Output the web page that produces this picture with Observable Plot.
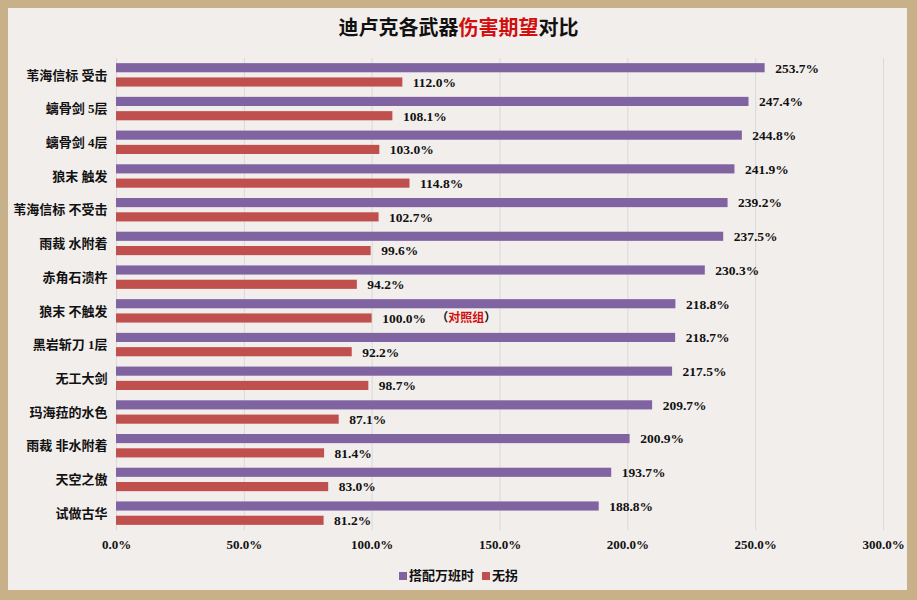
<!DOCTYPE html>
<html>
<head>
<meta charset="utf-8">
<script src="https://cdn.jsdelivr.net/npm/d3@7"></script>
<script src="https://cdn.jsdelivr.net/npm/@observablehq/plot@0.6"></script>
<style>
  html, body { margin: 0; padding: 0; }
  body { width: 917px; height: 600px; background: #c8b089; position: relative; overflow: hidden;
         font-family: "Liberation Serif", "Noto Sans CJK SC", serif; }
  #panel { position: absolute; left: 8px; top: 8px; width: 899px; height: 582px; background: #f2eeec; }
  #title { position: absolute; top: 12px; left: 0; width: 917px; text-align: center;
           font: bold 20px "Noto Sans CJK SC", sans-serif; color: #111; }
  #title .hl { color: #d10f0f; }
  #chart { position: absolute; left: 0; top: 0; }
  #legend { position: absolute; top: 565px; left: 0; width: 917px; text-align: center;
            font: bold 13px "Noto Sans CJK SC", sans-serif; color: #111; }
  #legend .sw { display: inline-block; width: 8px; height: 8px; margin-right: 2px; vertical-align: 0px; }
  #legend .item { margin: 0 4px; }
</style>
</head>
<body>
<div id="panel"></div>
<div id="title">迪卢克各武器<span class="hl">伤害期望</span>对比</div>
<div id="chart"></div>
<div id="legend"></div>
<script>
const categories = ["苇海信标 受击", "螭骨剑 5层", "螭骨剑 4层", "狼末 触发", "苇海信标 不受击", "雨裁 水附着", "赤角石溃杵", "狼末 不触发", "黑岩斩刀 1层", "无工大剑", "玛海菈的水色", "雨裁 非水附着", "天空之傲", "试做古华"];
const seriesNames = ["搭配万班时", "无拐"];
const withBennett = [253.7, 247.4, 244.8, 241.9, 239.2, 237.5, 230.3, 218.8, 218.7, 217.5, 209.7, 200.9, 193.7, 188.8];
const without = [112.0, 108.1, 103.0, 114.8, 102.7, 99.6, 94.2, 100.0, 92.2, 98.7, 87.1, 81.4, 83.0, 81.2];
const seriesColors = ["#8064a2", "#c0504d"];
const xTicks = [0, 50, 100, 150, 200, 250, 300];
const controlCategory = "狼末 不触发";
const controlNote = "（对照组）";

const data = [];
categories.forEach((c, i) => {
  data.push({category: c, series: seriesNames[0], value: withBennett[i]});
  data.push({category: c, series: seriesNames[1], value: without[i]});
});
const controlData = data.filter(d => d.category === controlCategory && d.series === seriesNames[1]);

const chart = Plot.plot({
  width: 917,
  height: 560,
  marginLeft: 116,
  marginRight: 34,
  marginTop: 58,
  marginBottom: 30,
  style: {background: "transparent", fontFamily: "'Liberation Serif', 'Noto Sans CJK SC', serif", fontWeight: "bold", fontSize: "13px", color: "#111"},
  x: {domain: [0, 300], ticks: xTicks, tickFormat: d => d.toFixed(1) + "%", label: null, tickSize: 0, tickPadding: 9},
  y: {domain: seriesNames, padding: 0.36, round: false, axis: null},
  fy: {domain: categories, padding: 0, round: false, label: null, tickSize: 0, tickPadding: 9, axis: "left"},
  color: {domain: seriesNames, range: seriesColors},
  marks: [
    Plot.gridX(xTicks, {stroke: "#d9d9d9", strokeOpacity: 1, strokeWidth: 1}),
    Plot.barX(data, {x: "value", y: "series", fy: "category", fill: "series"}),
    Plot.text(data, {x: "value", y: "series", fy: "category", text: d => d.value.toFixed(1) + "%", dx: 10, textAnchor: "start", fill: "#111", fontSize: 13.5}),
    Plot.text(controlData, {x: "value", y: "series", fy: "category", text: () => controlNote, dx: 64, textAnchor: "start", fill: "#d10f0f", fontFamily: "'Noto Sans CJK SC', sans-serif", fontSize: 12})
  ]
});
document.getElementById("chart").appendChild(chart);

// black parentheses around the red note
d3.select(chart).selectAll("text").filter(function() { return this.textContent === controlNote; })
  .each(function() {
    const t = d3.select(this);
    t.text(null);
    t.append("tspan").attr("fill", "#111").text("（");
    t.append("tspan").text(controlNote.slice(1, -1));
    t.append("tspan").attr("fill", "#111").text("）");
  });

const legend = d3.select("#legend");
seriesNames.forEach((s, i) => {
  const item = legend.append("span").attr("class", "item");
  item.append("span").attr("class", "sw").style("background", seriesColors[i]);
  item.append("span").text(s);
});
</script>
</body>
</html>
